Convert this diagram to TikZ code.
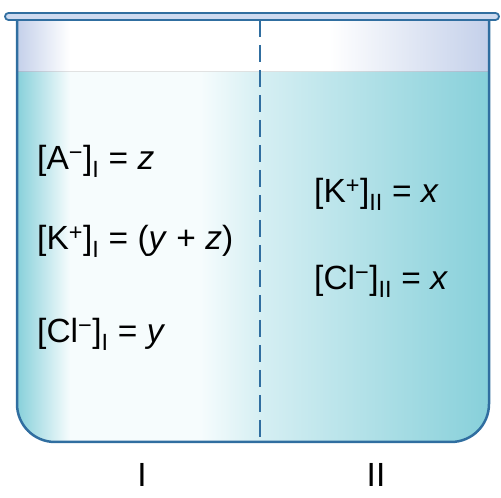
\documentclass[tikz,border=0pt]{standalone}
\usepackage{fontspec}
\setmainfont{Liberation Sans}
\usepackage{tikz}
\usetikzlibrary{positioning}
\definecolor{bkline}{RGB}{48,110,160}
\definecolor{bkrim}{RGB}{205,218,240}
\definecolor{bkteal}{RGB}{135,208,218}
\definecolor{bkpale}{RGB}{246,252,253}
\definecolor{bkmid}{RGB}{214,239,243}
\definecolor{bkair}{RGB}{196,208,234}
\pgfdeclarehorizontalshading{liquid}{100bp}{color(0bp)=(bkteal); color(25bp)=(bkteal);
  color(30.6bp)=(bkpale); color(44.4bp)=(bkpale); color(50.7bp)=(bkmid);
  color(75bp)=(bkteal); color(100bp)=(bkteal)}
\pgfdeclarehorizontalshading{air}{100bp}{color(0bp)=(bkair); color(25bp)=(bkair);
  color(30.6bp)=(white); color(58bp)=(white); color(75bp)=(bkair); color(100bp)=(bkair)}

\begin{document}
\begin{tikzpicture}[
  x=1pt, y=1pt,
  conc/.style={anchor=base west, inner sep=0pt, font=\fontsize{33.5}{40}\selectfont},
  side/.style={anchor=base, inner sep=0pt, font=\fontsize{33.5}{40}\selectfont},
  wall/.style={draw=bkline, line width=2.5pt},
  membrane/.style={draw=bkline, line width=2.5pt, dash pattern=on 17pt off 8pt},
]
\useasboundingbox (0,0) rectangle (501,498);

\fill[shading=air] (17,478) rectangle (489,426);
\fill[shading=liquid] (17,426) -- (17,94) arc[start angle=180, end angle=270, radius=38]
  -- (451,56) arc[start angle=270, end angle=360, radius=38] -- (489,426) -- cycle;

\coordinate (memtop) at (260,478);
\coordinate (membot) at (260,56);
\draw[membrane] (memtop) -- (membot);

\draw[wall] (17,478) -- (17,94) arc[start angle=180, end angle=270, radius=38]
  -- (451,56) arc[start angle=270, end angle=360, radius=38] -- (489,478);
\draw[draw=bkline, fill=bkrim, line width=1.8pt, rounded corners=3.5pt] (5,478) rectangle (499,485);

\node[conc] (aI)   at (37,328) {[A\textsuperscript{−}]\textsubscript{I} = \textit{z}};
\node[conc] (kI)   at (37,248) {[K\textsuperscript{+}]\textsubscript{I} = (\textit{y} + \textit{z})};
\node[conc] (clI)  at (37,155) {[Cl\textsuperscript{−}]\textsubscript{I} = \textit{y}};
\node[conc] (kII)  at (314,295) {[K\textsuperscript{+}]\textsubscript{II} = \textit{x}};
\node[conc] (clII) at (314,208) {[Cl\textsuperscript{−}]\textsubscript{II} = \textit{x}};

\node[side] (sideI)  at (142,11) {I};
\node[side] (sideII) at (376,11) {II};
\end{tikzpicture}
\end{document}
